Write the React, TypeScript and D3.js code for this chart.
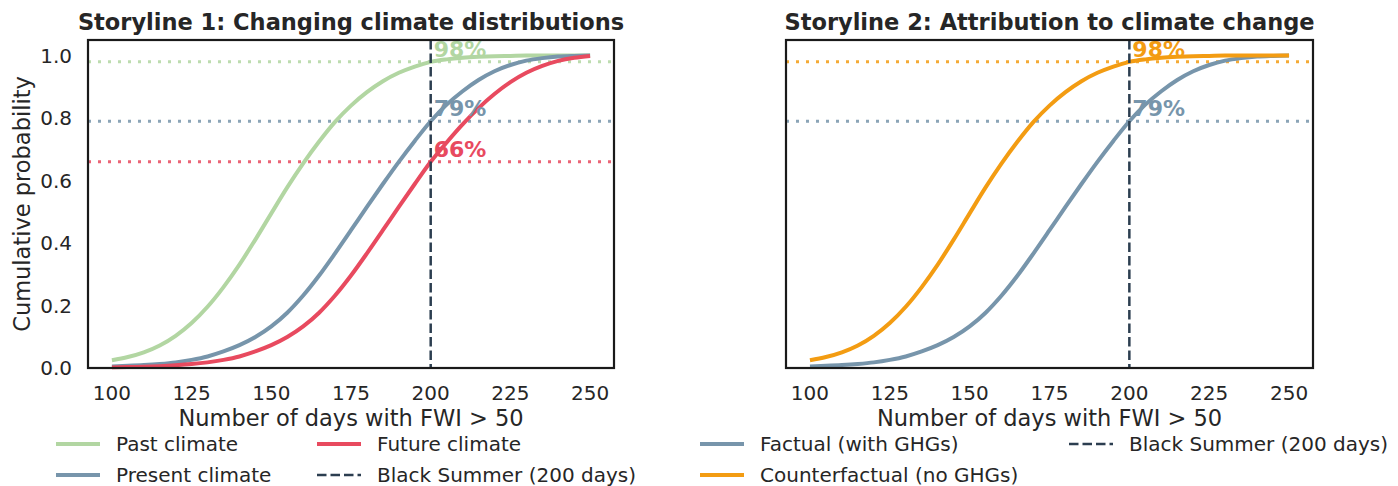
import React from 'react';
import * as d3 from 'd3';

// ---------- data ----------
const days = [100, 105, 110, 115, 120, 125, 130, 135, 140, 145, 150, 155, 160, 165, 170, 175, 180, 185, 190, 195, 200, 205, 210, 215, 220, 225, 230, 235, 240, 245, 250];

const pastClimate = [0.025, 0.035, 0.05, 0.072, 0.103, 0.144, 0.196, 0.259, 0.331, 0.411, 0.495, 0.578, 0.655, 0.725, 0.788, 0.84, 0.883, 0.918, 0.945, 0.965, 0.98, 0.988, 0.993, 0.996, 0.998, 0.999, 1.0, 1.0, 1.0, 1.0, 1.0];
const presentClimate = [0.005, 0.007, 0.0095, 0.013, 0.018, 0.026, 0.037, 0.053, 0.073, 0.099, 0.133, 0.177, 0.232, 0.296, 0.367, 0.441, 0.516, 0.589, 0.66, 0.727, 0.79, 0.843, 0.886, 0.922, 0.95, 0.97, 0.984, 0.992, 0.997, 0.999, 1.0];
const futureClimate = [0.002, 0.003, 0.0042, 0.006, 0.0087, 0.0125, 0.018, 0.026, 0.037, 0.053, 0.073, 0.099, 0.133, 0.177, 0.232, 0.296, 0.367, 0.441, 0.516, 0.589, 0.66, 0.722, 0.78, 0.832, 0.877, 0.915, 0.945, 0.967, 0.983, 0.993, 0.999];
const factualGHG = [0.005, 0.007, 0.0095, 0.013, 0.018, 0.026, 0.037, 0.053, 0.073, 0.099, 0.133, 0.177, 0.232, 0.296, 0.367, 0.441, 0.516, 0.589, 0.66, 0.727, 0.79, 0.843, 0.886, 0.922, 0.95, 0.97, 0.984, 0.992, 0.997, 0.999, 1.0];
const counterfactualNoGHG = [0.025, 0.035, 0.05, 0.072, 0.103, 0.144, 0.196, 0.259, 0.331, 0.411, 0.495, 0.578, 0.655, 0.725, 0.788, 0.84, 0.883, 0.918, 0.945, 0.965, 0.98, 0.988, 0.993, 0.996, 0.998, 0.999, 1.0, 1.0, 1.0, 1.0, 1.0];

const leftProbLabels = [0.98, 0.79, 0.66];
const rightProbLabels = [0.98, 0.79];

const xTicks = [100, 125, 150, 175, 200, 225, 250];
const yTicks = [0.0, 0.2, 0.4, 0.6, 0.8, 1.0];
const blackSummerDays = 200;

// ---------- style ----------
const C_PAST = '#b2d6a2';
const C_PRESENT = '#7795ab';
const C_FUTURE = '#e84a5f';
const C_CF = '#f39c12';
const C_DASH = '#2c3e50';
const FONT = '"DejaVu Sans", Verdana, sans-serif';
const TEXT = '#262626';

const TOP = 40;
const BOTTOM = 368;

type Series = { name: string; values: number[]; color: string };

function Panel({ x0, x1, title, series, probs, probColors, showY }:
  { x0: number; x1: number; title: string; series: Series[]; probs: number[]; probColors: string[]; showY: boolean }) {
  const x = d3.scaleLinear().domain([92.5, 257.5]).range([x0, x1]);
  const y = d3.scaleLinear().domain([0, 1.05]).range([BOTTOM, TOP]);
  const line = d3.line<number>()
    .x((_, i) => x(days[i]))
    .y((d) => y(d))
    .curve(d3.curveMonotoneX);
  const xb = x(blackSummerDays);
  return (
    <g>
      <text x={(x0 + x1) / 2} y={30} textAnchor="middle" fontFamily={FONT} fontWeight="bold" fontSize={22.5} fill={TEXT}>{title}</text>
      {probs.map((p, i) => (
        <line key={'h' + i} x1={x0} x2={x1} y1={y(p)} y2={y(p)} stroke={probColors[i]} strokeWidth={3} strokeDasharray="3 7" opacity={0.85} />
      ))}
      {series.map((s) => (
        <path key={s.name} d={line(s.values) || ''} fill="none" stroke={s.color} strokeWidth={4} />
      ))}
      <line x1={xb} x2={xb} y1={TOP} y2={BOTTOM} stroke={C_DASH} strokeWidth={2.5} strokeDasharray="9.5 4" />
      {probs.map((p, i) => (
        <text key={'t' + i} x={xb + 3} y={y(p) - 5} fontFamily={FONT} fontWeight="bold" fontSize={22} fill={probColors[i]}>{Math.round(p * 100)}%</text>
      ))}
      <rect x={x0} y={TOP} width={x1 - x0} height={BOTTOM - TOP} fill="none" stroke="#1a1a1a" strokeWidth={2.2} />
      {xTicks.map((t) => (
        <text key={'xt' + t} x={x(t)} y={400} textAnchor="middle" fontFamily={FONT} fontSize={20} fill={TEXT}>{t}</text>
      ))}
      <text x={(x0 + x1) / 2} y={426} textAnchor="middle" fontFamily={FONT} fontSize={22.5} fill={TEXT}>Number of days with FWI &gt; 50</text>
      {showY && yTicks.map((t) => (
        <text key={'yt' + t} x={x0 - 16} y={y(t) + 7.3} textAnchor="end" fontFamily={FONT} fontSize={20} fill={TEXT}>{t.toFixed(1)}</text>
      ))}
      {showY && (
        <text transform={`translate(${x0 - 58},${(TOP + BOTTOM) / 2}) rotate(-90)`} textAnchor="middle" fontFamily={FONT} fontSize={22.5} fill={TEXT}>Cumulative probability</text>
      )}
    </g>
  );
}

function LegendItem({ x, y, label, color, dashed }: { x: number; y: number; label: string; color: string; dashed?: boolean }) {
  return (
    <g>
      <line x1={x} x2={x + 44} y1={y} y2={y} stroke={color} strokeWidth={dashed ? 2.5 : 4} strokeDasharray={dashed ? '9.5 4' : undefined} />
      <text x={x + 60} y={y + 7.3} fontFamily={FONT} fontSize={20} fill={TEXT}>{label}</text>
    </g>
  );
}

export default function App() {
  const leftSeries: Series[] = [
    { name: 'Past climate', values: pastClimate, color: C_PAST },
    { name: 'Present climate', values: presentClimate, color: C_PRESENT },
    { name: 'Future climate', values: futureClimate, color: C_FUTURE },
  ];
  const rightSeries: Series[] = [
    { name: 'Factual (with GHGs)', values: factualGHG, color: C_PRESENT },
    { name: 'Counterfactual (no GHGs)', values: counterfactualNoGHG, color: C_CF },
  ];
  return (
    <div style={{ position: 'absolute', left: 0, top: 0 }}>
      <svg width={1398} height={486} style={{ display: 'block', background: '#fff' }}>
        <Panel x0={88} x1={614} title="Storyline 1: Changing climate distributions" series={leftSeries}
          probs={leftProbLabels} probColors={[C_PAST, C_PRESENT, C_FUTURE]} showY={true} />
        <Panel x0={786} x1={1313} title="Storyline 2: Attribution to climate change" series={rightSeries}
          probs={rightProbLabels} probColors={[C_CF, C_PRESENT]} showY={false} />
        <LegendItem x={56} y={444} label="Past climate" color={C_PAST} />
        <LegendItem x={56} y={475} label="Present climate" color={C_PRESENT} />
        <LegendItem x={317} y={444} label="Future climate" color={C_FUTURE} />
        <LegendItem x={317} y={475} label="Black Summer (200 days)" color={C_DASH} dashed />
        <LegendItem x={700} y={444} label="Factual (with GHGs)" color={C_PRESENT} />
        <LegendItem x={700} y={475} label="Counterfactual (no GHGs)" color={C_CF} />
        <LegendItem x={1069} y={444} label="Black Summer (200 days)" color={C_DASH} dashed />
      </svg>
    </div>
  );
}
